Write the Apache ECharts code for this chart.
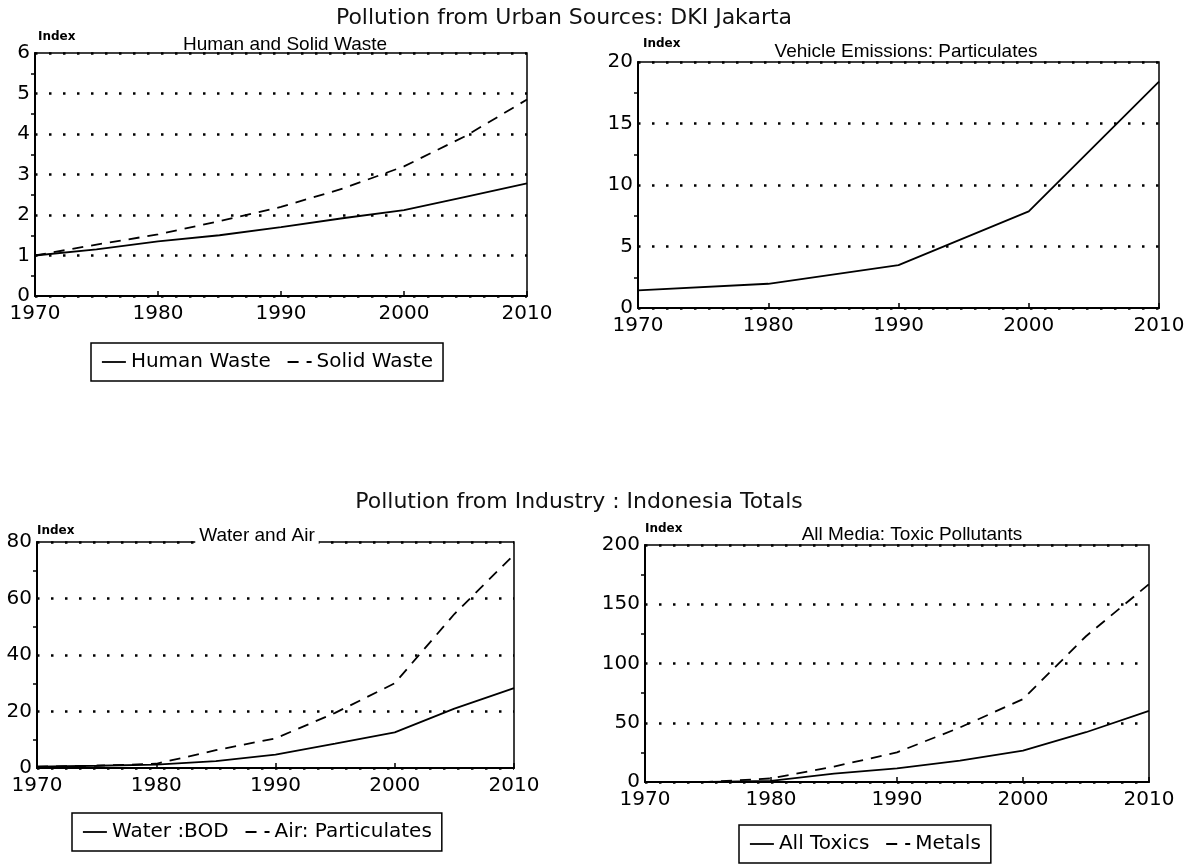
<!DOCTYPE html>
<html>
<head>
<meta charset="utf-8">
<script src="https://cdn.jsdelivr.net/npm/echarts@6/dist/echarts.min.js"></script>
<style>
  html, body { margin: 0; padding: 0; background: #fff; }
  #chart { width: 1196px; height: 867px; }
</style>
</head>
<body>
<div id="chart"></div>
<script>
// ---- data ----
const xTickYears = [1970, 1980, 1990, 2000, 2010];
const years5 = [1970, 1975, 1980, 1985, 1990, 1995, 2000, 2005, 2010];

// Urban sources: DKI Jakarta
const humanWaste = [1.0, 1.15, 1.35, 1.5, 1.7, 1.92, 2.12, 2.45, 2.78];
const solidWaste = [1.0, 1.27, 1.52, 1.85, 2.2, 2.65, 3.2, 3.95, 4.85];
const vehYears = [1970, 1980, 1990, 2000, 2010];
const vehicleParticulates = [1.43, 1.97, 3.48, 7.85, 18.4];

// Industry: Indonesia totals
const waterBOD = [0.5, 0.8, 1.2, 2.4, 4.7, 8.6, 12.6, 21, 28.3];
const airParticulates = [0.5, 0.8, 1.5, 6.3, 10.5, 19.5, 30, 54.5, 75.5];
const allToxics = [0, 0, 1, 7, 11.5, 18, 26.5, 42, 60];
const metals = [0, 0, 3, 13, 25, 46, 70, 123, 167];

// y-axis tick setups [max, interval]
const yAxisMax = [6, 20, 80, 200];
const yAxisStep = [1, 5, 20, 50];

// ---- chart ----
const FONT = 'DejaVu Sans';
const pairs = (xs, ys) => xs.map((x, i) => [x, ys[i]]);

const grids = [
  { left: 35, top: 53, width: 492, height: 243 },
  { left: 638, top: 62, width: 521, height: 246 },
  { left: 37, top: 542, width: 477, height: 226 },
  { left: 645, top: 545, width: 504, height: 237 }
].map(g => Object.assign(g, { show: true, borderColor: '#000', borderWidth: 1.5, backgroundColor: 'transparent', containLabel: false }));

const xAxes = grids.map((g, i) => ({
  type: 'value', gridIndex: i,
  min: xTickYears[0], max: xTickYears[xTickYears.length - 1], interval: 10,
  axisLine: { show: true, lineStyle: { color: '#000', width: 2 } },
  axisTick: { show: true, inside: true, length: 5, lineStyle: { color: '#000', width: 1.5 } },
  axisLabel: { color: '#000', fontFamily: FONT, fontSize: 20, margin: 8, formatter: v => String(v) },
  splitLine: { show: false }
}));

const yAxes = grids.map((g, i) => ({
  type: 'value', gridIndex: i,
  min: 0, max: yAxisMax[i], interval: yAxisStep[i],
  axisLine: { show: true, lineStyle: { color: '#000', width: 2 } },
  axisTick: { show: false },
  minorTick: { show: true, splitNumber: 2, length: 4, lineStyle: { color: '#000', width: 1.5 } },
  axisLabel: { color: '#000', fontFamily: FONT, fontSize: 20, margin: 5, formatter: v => String(v) },
  splitLine: { show: true, lineStyle: { color: '#000', width: 2.5, type: [2.5, 11.5], cap: 'butt' } }
}));

function line(name, data, idx, dashed) {
  return {
    name, type: 'line', xAxisIndex: idx, yAxisIndex: idx,
    data, symbol: 'none', showSymbol: false, smooth: false,
    legendIcon: 'none',
    lineStyle: { color: '#000', width: 1.8, type: dashed ? [11, 8] : 'solid' },
    itemStyle: { color: '#000' },
    emphasis: { disabled: true }
  };
}

const series = [
  line('Human Waste', pairs(years5, humanWaste), 0, false),
  line('Solid Waste', pairs(years5, solidWaste), 0, true),
  line('Vehicle Particulates', pairs(vehYears, vehicleParticulates), 1, false),
  line('Water :BOD', pairs(years5, waterBOD), 2, false),
  line('Air: Particulates', pairs(years5, airParticulates), 2, true),
  line('All Toxics', pairs(years5, allToxics), 3, false),
  line('Metals', pairs(years5, metals), 3, true)
];

const legendBase = {
  orient: 'horizontal', borderColor: '#000', borderWidth: 1.5,
  padding: [9, 10, 9, 10], itemWidth: 24, itemHeight: 14, itemGap: 16,
  backgroundColor: '#fff',
  itemStyle: { opacity: 0 },
  lineStyle: { width: 1.8 },
  textStyle: { color: '#000', fontFamily: FONT, fontSize: 20 },
  selectedMode: false
};
const legends = [
  Object.assign({}, legendBase, { data: ['Human Waste', 'Solid Waste'], left: 91, top: 343 }),
  Object.assign({}, legendBase, { data: ['Water :BOD', 'Air: Particulates'], left: 72, top: 813 }),
  Object.assign({}, legendBase, { data: ['All Toxics', 'Metals'], left: 739, top: 825 })
];

function ttl(text, left, top, size) {
  return {
    text, left, top, padding: 0, textAlign: 'center',
    textStyle: { color: '#111', fontFamily: FONT, fontSize: size, fontWeight: 'normal' }
  };
}
function sub(text, left, top, bg) {
  return {
    text, left, top, textAlign: 'center', padding: bg ? [0, 4] : 0,
    backgroundColor: bg ? '#fff' : 'transparent',
    textStyle: { color: '#000', fontFamily: 'Liberation Sans', fontSize: 19, fontWeight: 'normal' }
  };
}
function idx(left, top) {
  return {
    text: 'Index', left, top, padding: 0,
    textStyle: { color: '#000', fontFamily: FONT, fontSize: 12, fontWeight: 'bold' }
  };
}

const titles = [
  ttl('Pollution from Urban Sources: DKI Jakarta', 564, 7, 22),
  ttl('Pollution from Industry : Indonesia Totals', 579, 491, 22),
  sub('Human and Solid Waste', 285, 35, false),
  sub('Vehicle Emissions: Particulates', 906, 42, false),
  sub('Water and Air', 253, 526, true),
  sub('All Media: Toxic Pollutants', 908, 525, true),
  idx(38, 31), idx(643, 38), idx(37, 525), idx(645, 523)
];

const chart = echarts.init(document.getElementById('chart'), null, { renderer: 'canvas' });
chart.setOption({
  backgroundColor: '#fff',
  animation: false,
  title: titles,
  legend: legends,
  grid: grids,
  xAxis: xAxes,
  yAxis: yAxes,
  series
});
</script>
</body>
</html>
